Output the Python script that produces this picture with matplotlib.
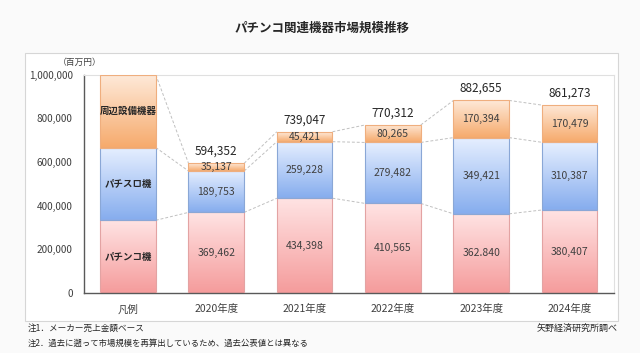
import numpy as np
import matplotlib
matplotlib.use("Agg")
import matplotlib.pyplot as plt
from matplotlib.patches import Rectangle
from matplotlib.colors import LinearSegmentedColormap

plt.rcParams['font.family'] = ['Noto Sans CJK JP', 'DejaVu Sans']

categories = ['凡例', '2020年度', '2021年度', '2022年度', '2023年度', '2024年度']
pachinko = [333333, 369462, 434398, 410565, 362840, 380407]
pachislot = [333333, 189753, 259228, 279482, 349421, 310387]
peripheral = [333334, 35137, 45421, 80265, 170394, 170479]
pachinko_labels = ['パチンコ機', '369,462', '434,398', '410,565', '362.840', '380,407']
pachislot_labels = ['パチスロ機', '189,753', '259,228', '279,482', '349,421', '310,387']
peripheral_labels = ['周辺設備機器', '35,137', '45,421', '80,265', '170,394', '170,479']
total_labels = ['', '594,352', '739,047', '770,312', '882,655', '861,273']

# top / bottom colours of each gradient, and the edge colour
styles = [
    ('#ffe3e3', '#f59c9c', '#e3a3a3'),
    ('#e6efff', '#86adee', '#8aa7d6'),
    ('#fee9d8', '#f6aa6c', '#efae7e'),
]

fig = plt.figure(figsize=(6.4, 3.53), dpi=100)
fig.patch.set_facecolor('#fafafa')
fig.patches.append(Rectangle((0.039, 0.0907), 0.927, 0.759, transform=fig.transFigure,
                             facecolor='white', edgecolor='#d6d6d6', lw=0.8, zorder=-1))

ax = fig.add_axes([0.131, 0.170, 0.828, 0.618])
ax.set_facecolor('white')
x = np.arange(len(categories))
width = 0.63

bottom = np.zeros(len(categories))
levels = []
for vals, (ctop, cbot, edge) in zip([pachinko, pachislot, peripheral], styles):
    vals = np.array(vals, dtype=float)
    bars = ax.bar(x, vals, width, bottom=bottom, facecolor='none', edgecolor=edge,
                  lw=0.8, zorder=3)
    cmap = LinearSegmentedColormap.from_list('g', [cbot, ctop])
    grad = np.linspace(0, 1, 100).reshape(-1, 1)
    for b in bars:
        im = ax.imshow(grad, cmap=cmap, aspect='auto', origin='lower', zorder=2,
                       extent=[b.get_x(), b.get_x() + b.get_width(),
                               b.get_y(), b.get_y() + b.get_height()])
        im.set_clip_path(b)
    bottom = bottom + vals
    levels.append(bottom.copy())

# segment labels
mids = [np.array(pachinko) / 2,
        np.array(pachinko) + np.array(pachislot) / 2,
        np.array(pachinko) + np.array(pachislot) + np.array(peripheral) / 2]
for seg_labels, mid in zip([pachinko_labels, pachislot_labels, peripheral_labels], mids):
    for i, lab in enumerate(seg_labels):
        if i == 0:
            ax.text(x[i], mid[i], lab, ha='center', va='center', fontsize=6.8,
                    fontweight='bold', color='#262626', zorder=5)
        else:
            ax.text(x[i], mid[i], lab, ha='center', va='center', fontsize=7.5,
                    color='#404040', zorder=5)

# totals
for i, lab in enumerate(total_labels):
    if lab:
        ax.annotate(lab, (x[i], levels[-1][i]), xytext=(0, 4), textcoords='offset points',
                    ha='center', va='bottom', fontsize=8.5, color='#262626')

# dashed connectors
for lev in levels:
    for i in range(len(categories) - 1):
        ax.plot([x[i] + width / 2, x[i + 1] - width / 2], [lev[i], lev[i + 1]],
                ls=(0, (3, 2)), color='#c0c0c0', lw=0.7, zorder=1)

ax.set_xlim(-0.5, 5.5)
ax.set_ylim(0, 1000000)
ax.set_yticks(np.arange(0, 1000001, 200000))
ax.set_yticklabels([f'{v:,}' for v in range(0, 1000001, 200000)])
ax.set_xticks(x)
ax.set_xticklabels(categories)
ax.tick_params(axis='y', length=0, pad=8, labelsize=7.2, labelcolor='#404040')
ax.tick_params(axis='x', length=0, pad=8, labelsize=7.5, labelcolor='#404040')
for s in ['top', 'right']:
    ax.spines[s].set_color('#e0e0e0')
    ax.spines[s].set_linewidth(0.8)
for s in ['left', 'bottom']:
    ax.spines[s].set_color('#595959')
    ax.spines[s].set_linewidth(1.0)

fig.text(80 / 640, 1 - 62 / 353, '（百万円）', ha='center', va='center', fontsize=6.3,
         color='#404040')
fig.text(322 / 640, 1 - 28 / 353, 'パチンコ関連機器市場規模推移', ha='center', va='center',
         fontsize=9, fontweight='bold', color='#262626')
fig.text(28 / 640, 1 - 328 / 353, '注1．メーカー売上金額ベース', ha='left', va='center',
         fontsize=6.2, color='#262626')
fig.text(28 / 640, 1 - 343 / 353, '注2．過去に遡って市場規模を再算出しているため、過去公表値とは異なる',
         ha='left', va='center', fontsize=6.0, color='#262626')
fig.text(618 / 640, 1 - 328 / 353, '矢野経済研究所調べ', ha='right', va='center',
         fontsize=6.5, color='#262626')

fig.savefig('out.png', dpi=100, facecolor=fig.get_facecolor())
